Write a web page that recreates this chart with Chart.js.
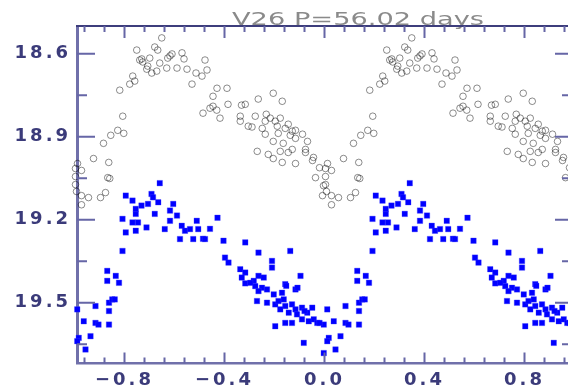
<!DOCTYPE html>
<html>
<head>
<meta charset="utf-8">
<title>V26 P=56.02 days</title>
<script src="https://cdn.jsdelivr.net/npm/chart.js@4.4.1/dist/chart.umd.min.js"></script>
<style>
  html, body { margin: 0; padding: 0; background: #fff; overflow: hidden; }
  #wrap { width: 568px; height: 385px; overflow: hidden; }
  canvas { display: block; }
</style>
</head>
<body>
<div id="wrap"><canvas id="lcChart" width="600" height="385"></canvas></div>
<script>
const chartTitle = 'V26 P=56.02 days';

// one cycle of phase (-1..0), plotted twice (phase and phase+1)
const blackPhase = [
    -0.996, -0.988, -0.972, -0.996, -0.996, -0.992, -0.972, -0.972, -0.944, -0.924,
    -0.896, -0.876, -0.863, -0.867, -0.859, -0.884, -0.855, -0.827, -0.803,
    -0.807, -0.819, -0.779, -0.759, -0.767, -0.751, -0.731, -0.711, -0.707, -0.699,
    -0.679, -0.671, -0.659, -0.651, -0.631, -0.618, -0.610, -0.627, -0.590, -0.570,
    -0.562, -0.550, -0.514, -0.530, -0.470, -0.478, -0.691, -0.727, -0.667, -0.739,
    -0.490, -0.430, -0.390, -0.446, -0.446, -0.458, -0.486, -0.418, -0.386, -0.317,
    -0.265, -0.205, -0.169, -0.337, -0.277, -0.237, -0.197, -0.337, -0.305, -0.249,
    -0.189, -0.145, -0.129, -0.185, -0.237, -0.205, -0.165, -0.116, -0.088, -0.068,
    -0.076, -0.129, -0.177, -0.269, -0.225, -0.205, -0.169, -0.116, -0.048, -0.044,
    -0.145, -0.076, -0.036, -0.020, -0.004, -0.008, -0.233, -0.217, -0.157, -0.137,
    -0.177, -0.116, -0.431, -0.332, -0.290
];
const blackMag = [
    19.015, 18.997, 19.022, 19.044, 19.073, 19.098, 19.113, 19.146, 19.120, 18.979,
    19.120, 19.102, 18.993, 19.048, 19.051, 18.924, 18.895, 18.877, 18.888,
    18.826, 18.732, 18.710, 18.699, 18.681, 18.587, 18.619, 18.656, 18.645, 18.616,
    18.576, 18.663, 18.634, 18.543, 18.652, 18.608, 18.601, 18.616, 18.652, 18.597,
    18.619, 18.656, 18.670, 18.710, 18.659, 18.623, 18.670, 18.630, 18.587, 18.623,
    18.681, 18.725, 18.725, 18.754, 18.790, 18.797, 18.815, 18.833, 18.783, 18.783,
    18.764, 18.743, 18.772, 18.826, 18.826, 18.844, 18.844, 18.844, 18.862, 18.870,
    18.862, 18.855, 18.880, 18.888, 18.891, 18.917, 18.924, 18.906, 18.891, 18.917,
    18.946, 18.946, 18.953, 18.953, 18.964, 18.979, 18.993, 18.997, 18.986, 18.975,
    18.957, 18.957, 19.048, 19.012, 19.077, 19.113, 18.819, 18.833, 18.870, 18.895,
    18.833, 18.877, 18.804, 18.786, 18.865
];

const bluePhase = [
    -0.989, -0.963, -0.916, -0.862, -0.983, -0.936, -0.956, -0.916, -0.862, -0.862,
    -0.849, -0.839, -0.869, -0.835, -0.869, -0.822, -0.808, -0.795, -0.755, -0.808,
    -0.768, -0.755, -0.755, -0.768, -0.795, -0.904, -0.989, -0.746,
    -0.659, -0.692, -0.686, -0.706, -0.732, -0.665, -0.679, -0.605, -0.618, -0.590,
    -0.618, -0.712, -0.639, -0.571, -0.558, -0.538, -0.511, -0.578, -0.525, -0.428,
    -0.458, -0.486, -0.505, -0.478, -0.404, -0.317, -0.264, -0.137, -0.398, -0.210,
    -0.384, -0.337, -0.317, -0.331, -0.264, -0.243, -0.283, -0.317, -0.277, -0.250,
    -0.264, -0.230, -0.210, -0.157, -0.096, -0.116, -0.203, -0.170, -0.270, -0.230,
    -0.197, -0.184, -0.163, -0.157, -0.177, -0.130, -0.116, -0.090, -0.143, -0.110,
    -0.069, -0.049, -0.090, -0.063, -0.043, -0.029, -0.130, -0.197, -0.157, -0.003,
    -0.083, -0.003, -0.020, -0.080, -0.297, -0.153, -0.108
];
const blueMag = [
    19.524, 19.567, 19.573, 19.579, 19.627, 19.621, 19.669, 19.512, 19.530, 19.500,
    19.488, 19.488, 19.385, 19.403, 19.421, 19.428, 19.313, 19.246, 19.240, 19.197,
    19.210, 19.179, 19.161, 19.131, 19.113, 19.579, 19.639, 19.210,
    19.068, 19.107, 19.119, 19.143, 19.149, 19.137, 19.179, 19.143, 19.167, 19.185,
    19.204, 19.228, 19.234, 19.222, 19.240, 19.234, 19.204, 19.270, 19.270, 19.193,
    19.233, 19.269, 19.234, 19.270, 19.276, 19.282, 19.319, 19.313, 19.337, 19.349,
    19.355, 19.379, 19.391, 19.409, 19.403, 19.409, 19.421, 19.430, 19.440, 19.446,
    19.458, 19.452, 19.373, 19.433, 19.403, 19.452, 19.470, 19.464, 19.494, 19.500,
    19.506, 19.494, 19.488, 19.512, 19.524, 19.506, 19.524, 19.518, 19.536, 19.542,
    19.536, 19.518, 19.560, 19.567, 19.560, 19.573, 19.573, 19.585, 19.573, 19.579,
    19.645, 19.682, 19.573, 19.530, 19.428, 19.439, 19.446
];

// axis ticks
const xTickLabels = [-0.8, -0.4, 0.0, 0.4, 0.8];
const xMinorStep = 0.08;
const yTickLabels = [18.6, 18.9, 19.2, 19.5];
const yMinorStep = 0.15;

const axisColor = '#7070aa';
const labelColor = '#3b3b7a';

function toPoints(phase, mag) {
    const pts = [];
    phase.forEach((p, i) => pts.push({ x: p, y: mag[i] }));
    phase.forEach((p, i) => pts.push({ x: p + 1, y: mag[i] }));
    return pts;
}

function fmt(v) {
    if (Math.abs(v) < 1e-9) return '0.0';
    return (v < 0 ? '\u2212' : '') + Math.abs(v).toFixed(1);
}

// title, frame (top/right) and inward ticks on all four sides
const frameTicks = {
    id: 'frameTicks',
    beforeDraw(chart) {
        const c = chart.ctx;
        c.save();
        c.letterSpacing = '0px';
        c.font = '18px "DejaVu Sans"';
        // the original lettering is stretched sideways: fit it to 232..484
        const w0 = c.measureText(chartTitle).width;
        c.translate(232, 25);
        c.scale(252 / w0, 1);
        c.fillStyle = '#8a8a8a';
        c.textBaseline = 'alphabetic';
        c.textAlign = 'left';
        c.fillText(chartTitle, 0, 0);
        c.restore();
        c.letterSpacing = '3px';
    },
    afterDraw(chart) {
        const c = chart.ctx;
        const a = chart.chartArea;
        const xs = chart.scales.x;
        const ys = chart.scales.y;
        c.save();

        c.strokeStyle = '#3d3d7c';
        c.lineWidth = 2;
        c.beginPath();
        c.moveTo(a.left - 1, a.top);
        c.lineTo(a.right, a.top);
        c.stroke();
        c.strokeStyle = axisColor;
        c.lineWidth = 3;
        c.beginPath();
        c.moveTo(a.right, a.top);
        c.lineTo(a.right, a.bottom);
        c.stroke();

        c.strokeStyle = '#6666a6';
        c.lineWidth = 2;
        for (let k = -12; k <= 12; k++) {
            const v = k * xMinorStep;
            const major = xTickLabels.some(t => Math.abs(t - v) < 1e-6);
            const px = xs.getPixelForValue(v);
            c.beginPath();
            c.moveTo(px, a.bottom);
            c.lineTo(px, a.bottom - (major ? 11 : 6));
            c.moveTo(px, a.top);
            c.lineTo(px, a.top + (major ? 12 : 6));
            c.stroke();
        }
        for (let k = 0; k <= 7; k++) {
            const v = yTickLabels[0] + k * yMinorStep;
            const major = yTickLabels.some(t => Math.abs(t - v) < 1e-6);
            const py = ys.getPixelForValue(v);
            c.beginPath();
            c.moveTo(a.left, py);
            c.lineTo(a.left + (major ? 18 : 10), py);
            c.moveTo(a.right, py);
            c.lineTo(a.right - (major ? 17 : 10), py);
            c.stroke();
        }
        c.restore();
    }
};

const ctx = document.getElementById('lcChart').getContext('2d');
new Chart(ctx, {
    type: 'scatter',
    data: {
        datasets: [
            {
                label: 'upper',
                data: toPoints(blackPhase, blackMag),
                pointStyle: 'circle',
                pointRadius: 3.3,
                borderWidth: 1,
                borderColor: 'rgba(0, 0, 0, 0.45)',
                backgroundColor: 'rgba(0, 0, 0, 0)',
                clip: false
            },
            {
                label: 'lower',
                data: toPoints(bluePhase, blueMag),
                pointStyle: 'rect',
                pointRadius: 3.9,
                borderWidth: 0.8,
                borderColor: 'rgba(60, 60, 255, 0.4)',
                backgroundColor: '#0000ff',
                clip: false
            }
        ]
    },
    options: {
        responsive: false,
        animation: false,
        devicePixelRatio: 1,
        layout: { padding: { top: 26, right: 28, left: 0, bottom: 0 } },
        plugins: {
            legend: { display: false },
            tooltip: { enabled: false }
        },
        scales: {
            x: {
                type: 'linear',
                min: -0.99,
                max: 0.99,
                grid: { display: false, drawTicks: false },
                border: { display: true, color: axisColor, width: 2.5 },
                afterBuildTicks: scale => { scale.ticks = xTickLabels.map(v => ({ value: v })); },
                afterFit: scale => { scale.height = 21.4; },
                ticks: {
                    autoSkip: false,
                    maxRotation: 0,
                    padding: 6,
                    color: labelColor,
                    font: { family: 'DejaVu Sans', size: 18, weight: 'bold' },
                    callback: v => fmt(v)
                }
            },
            y: {
                type: 'linear',
                reverse: true,
                min: 18.5,
                max: 19.72,
                grid: { display: false, drawTicks: false },
                border: { display: true, color: axisColor, width: 3 },
                afterBuildTicks: scale => { scale.ticks = yTickLabels.map(v => ({ value: v })); },
                afterFit: scale => { scale.width = 77; },
                ticks: {
                    autoSkip: false,
                    padding: 6,
                    color: labelColor,
                    font: { family: 'DejaVu Sans', size: 18, weight: 'bold' },
                    callback: v => v.toFixed(1)
                }
            }
        }
    },
    plugins: [frameTicks]
});
</script>
</body>
</html>
